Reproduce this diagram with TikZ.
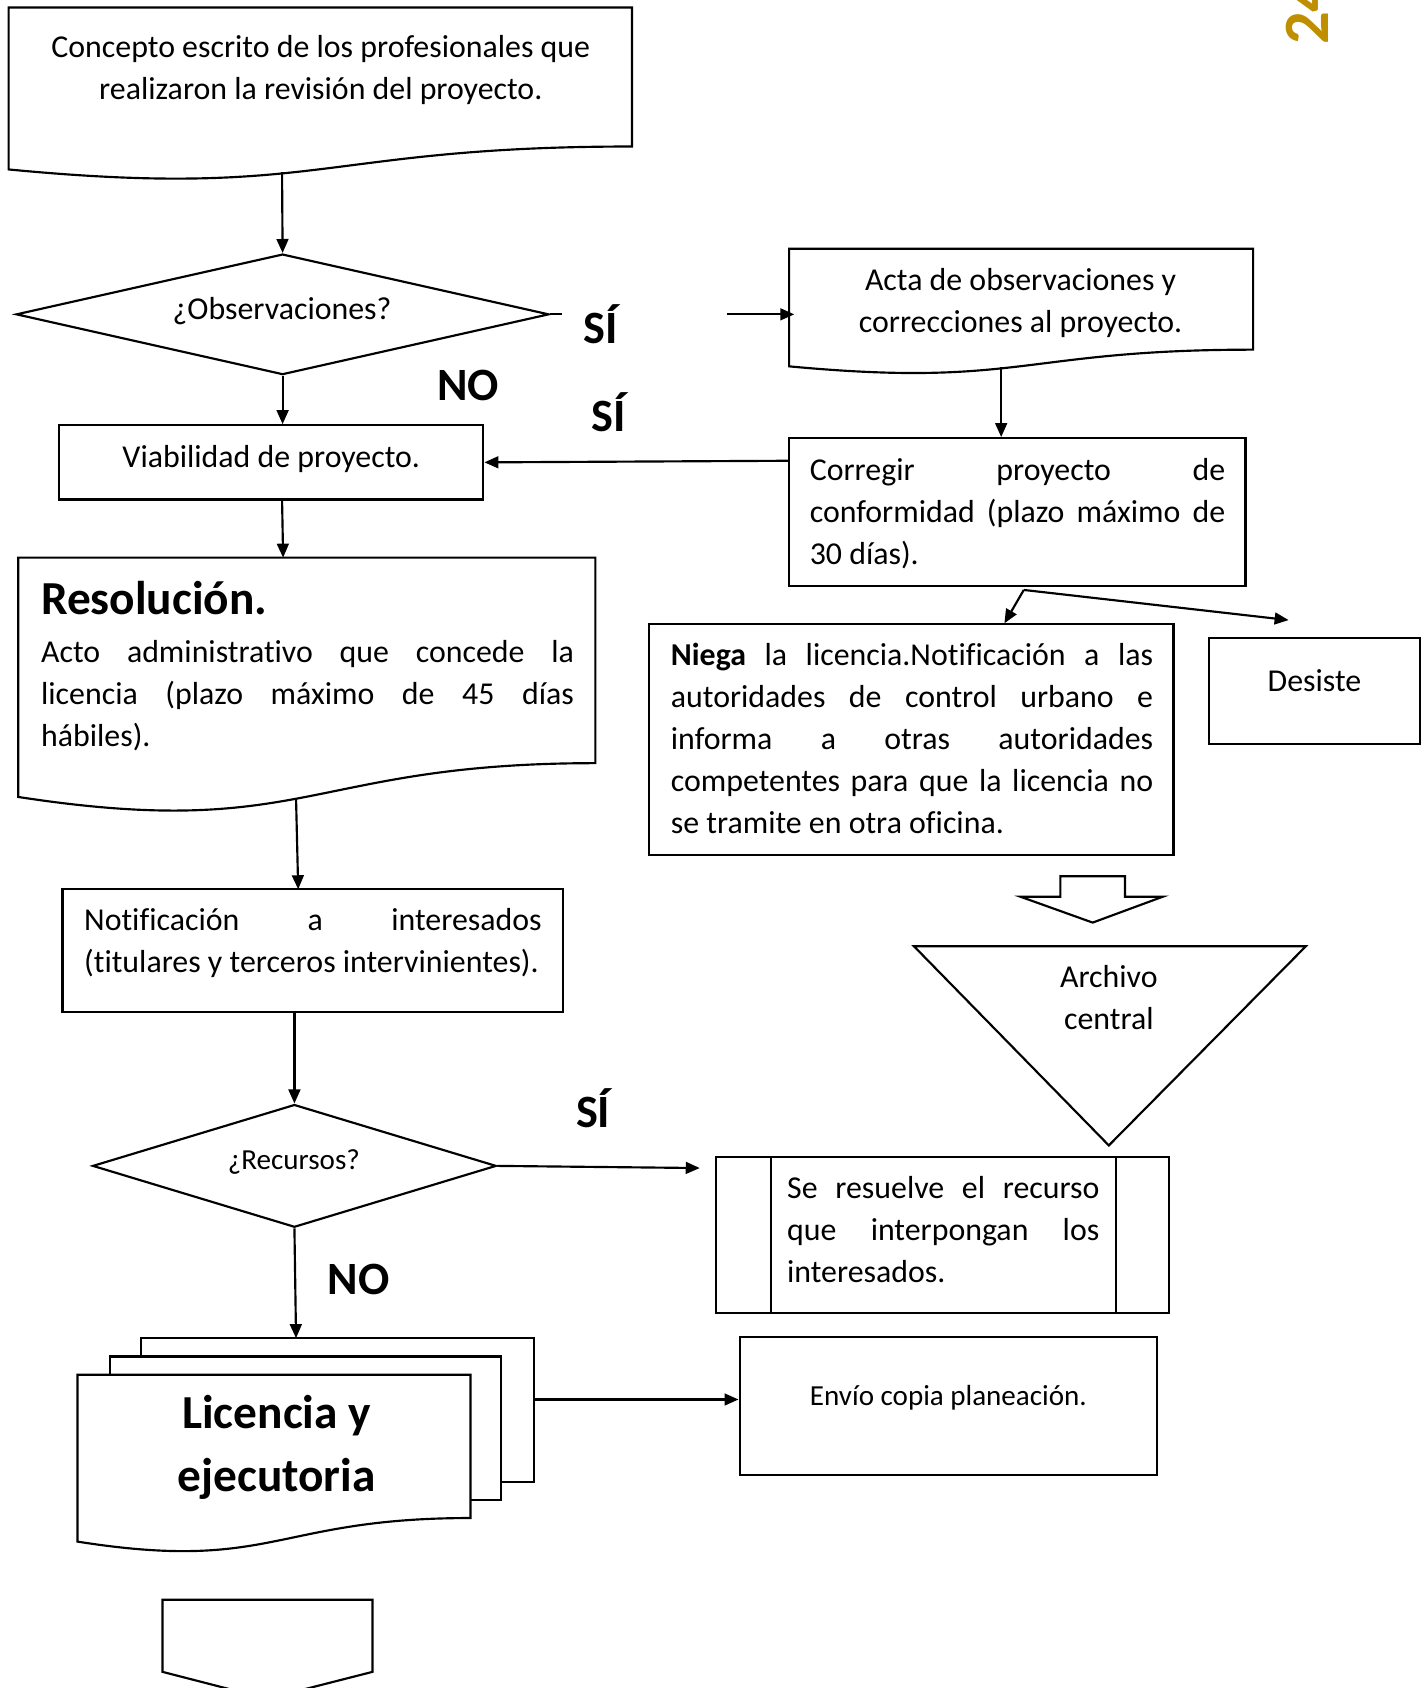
\documentclass[tikz,border=0pt]{standalone}
\usepackage{fontspec}
\setmainfont[Ligatures={NoCommon}]{Carlito}
\definecolor{ocre}{RGB}{191,143,0}
\usetikzlibrary{shapes,arrows.meta,positioning,calc}
\hyphenpenalty=10000 \exhyphenpenalty=10000
\tolerance=10000 \hbadness=10000 \hfuzz=8pt
\tikzset{
  caja/.style={draw, line width=2pt, inner sep=0pt},
  borde/.style={line width=2pt},
  texto/.style={font=\fontsize{29.6}{39}\selectfont, inner sep=0pt},
  chico/.style={font=\fontsize{27}{36}\selectfont, inner sep=0pt},
  etiqueta/.style={font=\fontsize{43}{43}\selectfont\bfseries, inner sep=0pt},
  titulo/.style={font=\fontsize{44}{58}\selectfont\bfseries, inner sep=0pt},
  justo/.style={texto, align=justify, anchor=base west},
  flecha/.style={line width=2pt, -{Triangle[length=13pt,width=11pt]}}
}

\begin{document}
\begin{tikzpicture}[x=1pt,y=-1pt]
    \useasboundingbox (0,0) rectangle (1320,1568);

    % numero de pagina
    \node[font=\fontsize{60}{60}\selectfont\bfseries, text=ocre, rotate=90, anchor=base west, inner sep=0pt] (pagina) at (1234,42) {24};

    % concepto escrito (documento)
    \draw[borde] (8,7) -- (587,7) -- (587,136.1) .. controls (297.5,136.1) and (297.5,185.2) .. (8,157.4) -- cycle;
    \node[texto, text width=560, align=flush center, anchor=base] (concepto) at (298,53) {Concepto escrito de los profesionales que\\realizaron la revisi\'on del proyecto.};
    \coordinate (concepto-s) at (262,160);

    % observaciones
    \node[caja, diamond, minimum width=495, minimum height=112] (obs) at (262.5,292) {};
    \node[texto, anchor=base] (obs-txt) at (262,297) {¿Observaciones?};
    \coordinate (si-fin) at (522,292);
    \coordinate (si-ini) at (675,292);
    \node[etiqueta, anchor=base] (si1) at (558,319) {SÍ};
    \node[etiqueta, anchor=base] (no1) at (435,372) {NO};
    \node[etiqueta, anchor=base] (si2) at (565,401) {SÍ};

    % acta (documento)
    \draw[borde] (733,231) -- (1164,231) -- (1164,324.8) .. controls (948.5,324.8) and (948.5,360.5) .. (733,340.3) -- cycle;
    \node[texto, text width=420, align=flush center, anchor=base] (acta) at (948,270) {Acta de observaciones y\\correcciones al proyecto.};
    \coordinate (acta-s) at (930,341);

    % viabilidad
    \node[caja, minimum width=394, minimum height=69] (viab) at (252,429.5) {};
    \node[texto, anchor=base] (viab-txt) at (252,434) {Viabilidad de proyecto.};
    \coordinate (viab-s) at (262,464);

    % corregir
    \node[caja, minimum width=424, minimum height=137] (corregir) at (945,475.5) {};
    \node[justo, text width=386] (corr-txt) at (752,446) {Corregir proyecto de\linebreak conformidad (plazo m\'aximo de\linebreak 30 d\'ias).};
    \coordinate (corr-w) at (733,428);
    \coordinate (bif) at (951,548);

    % niega y desiste
    \node[caja, minimum width=487, minimum height=214] (niega) at (846.5,687) {};
    \node[justo, text width=448] (niega-txt) at (623,618) {\textbf{Niega} la licencia.Notificaci\'on a las\linebreak autoridades de control urbano e\linebreak informa a otras autoridades\linebreak competentes para que la licencia no\linebreak se tramite en otra oficina.};
    \coordinate (niega-n) at (933,579);
    \node[caja, minimum width=196, minimum height=98] (desiste) at (1221,642) {};
    \node[texto, anchor=base] (desiste-txt) at (1221,642) {Desiste};
    \coordinate (desiste-f) at (1197,576);

    % flecha hueca y archivo
    \draw[borde] (985,814) -- (1045,814) -- (1045,833) -- (1080,833) -- (1015,857) -- (948,833) -- (985,833) -- cycle;
    \draw[borde] (849,879) -- (1213,879) -- (1030,1064) -- cycle;
    \node[texto, text width=200, align=flush center, anchor=base] (archivo) at (1030,917) {Archivo\\central};

    % resolucion (documento)
    \draw[borde] (17,518) -- (553,518) -- (553,708.9) .. controls (285,708.9) and (285,781.5) .. (17,740.3) -- cycle;
    \node[titulo, anchor=base west] (resol-tit) at (38,571) {Resoluci\'on.};
    \node[justo, text width=495] (resol) at (38,615) {Acto administrativo que concede la\linebreak licencia (plazo m\'aximo de 45 d\'ias\linebreak h\'abiles).};
    \coordinate (resol-n) at (263,518);
    \coordinate (resol-s) at (275,742);

    % notificacion
    \node[caja, minimum width=465, minimum height=114] (notif) at (290.5,883) {};
    \node[justo, text width=425] (notif-txt) at (78,864) {Notificaci\'on a interesados\linebreak (titulares y terceros intervinientes).};
    \coordinate (notif-n) at (277,826);

    % recursos
    \node[caja, diamond, minimum width=375, minimum height=114] (recursos) at (273.5,1083) {};
    \node[chico, anchor=base] (rec-txt) at (273,1086) {¿Recursos?};
    \node[etiqueta, anchor=base] (si3) at (551,1047) {SÍ};
    \node[etiqueta, anchor=base] (no2) at (333,1202) {NO};
    \coordinate (resuelve-f) at (650,1085);

    % se resuelve (proceso predefinido)
    \node[caja, minimum width=421, minimum height=145] (resuelve) at (875.5,1147.5) {};
    \draw[borde] ([xshift=52pt]resuelve.north west) -- ([xshift=52pt]resuelve.south west);
    \draw[borde] ([xshift=-50pt]resuelve.north east) -- ([xshift=-50pt]resuelve.south east);
    \node[justo, text width=290] (res-txt) at (731,1113) {Se resuelve el recurso\linebreak que interpongan los\linebreak interesados.};

    % licencia (multidocumento)
    \draw[borde, fill=white] (131,1260) -- (131,1243) -- (496,1243) -- (496,1377) -- (465,1377);
    \draw[borde, fill=white] (102,1277) -- (102,1260) -- (465,1260) -- (465,1393) -- (437,1393);
    \draw[borde, fill=white] (72,1277) -- (437,1277) -- (437,1410.1) .. controls (254.5,1410.1) and (254.5,1460.8) .. (72,1432) -- cycle;
    \node[titulo, text width=360, align=flush center, anchor=base] (licencia) at (257,1327) {Licencia y\\ejecutoria};
    \coordinate (licencia-n) at (275,1243);
    \coordinate (licencia-e) at (496,1300);

    % envio
    \node[caja, minimum width=388, minimum height=128] (envio) at (881,1306) {};
    \node[chico, anchor=base] (envio-txt) at (881,1306) {Env\'io copia planeaci\'on.};

    % conector fuera de pagina
    \draw[borde] (151,1486) -- (346,1486) -- (346,1553) -- (248,1578) -- (151,1553) -- cycle;

    % conectores
    \draw[flecha] (concepto-s) -- (obs.north);
    \draw[borde] (obs.east) -- (si-fin);
    \draw[flecha] (si-ini) -- (si-ini -| acta.west);
    \draw[flecha] (obs.south) -- (obs.south |- viab.north);
    \draw[flecha] (acta-s) -- (acta-s |- corregir.north);
    \draw[flecha] (corr-w) -- (viab.east);
    \draw[flecha] (viab-s) -- (resol-n);
    \draw[flecha] (bif) -- (niega-n);
    \draw[flecha] (bif) -- (desiste-f);
    \draw[flecha] (resol-s) -- (notif-n);
    \draw[flecha] (notif.south -| recursos.north) -- (recursos.north);
    \draw[flecha] (recursos.east) -- (resuelve-f);
    \draw[flecha] (recursos.south) -- (licencia-n);
    \draw[flecha] (licencia-e) -- (licencia-e -| envio.west);
\end{tikzpicture}
\end{document}
